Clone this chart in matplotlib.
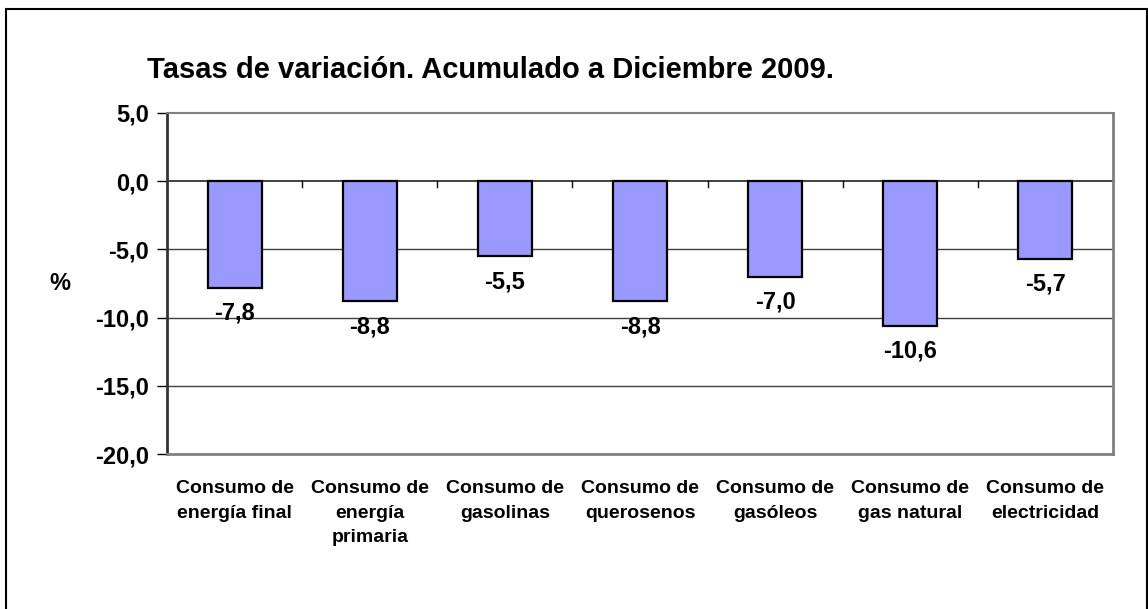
import numpy as np
import matplotlib.pyplot as plt
from matplotlib.patches import Rectangle
from matplotlib.ticker import FuncFormatter

plt.rcParams['font.family'] = ['Liberation Sans', 'DejaVu Sans']
plt.rcParams['font.weight'] = 'bold'

# Datos del grafico
categorias = ["Consumo de\nenergía final", "Consumo de\nenergía\nprimaria",
              "Consumo de\ngasolinas", "Consumo de\nquerosenos",
              "Consumo de\ngasóleos", "Consumo de\ngas natural",
              "Consumo de\nelectricidad"]
tasas = [-7.8, -8.8, -5.5, -8.8, -7.0, -10.6, -5.7]
ticks_y = [5, 0, -5, -10, -15, -20]

fig = plt.figure(figsize=(11.48, 6.09), dpi=100)
ax = fig.add_axes([0.1455, 0.2545, 0.824, 0.56])

# marco exterior de la figura
fig.patches.append(Rectangle((6 / 1148, -0.05), (1147 - 6) / 1148, 1 - 9 / 609 + 0.05,
                             transform=fig.transFigure, fill=False,
                             edgecolor='black', linewidth=1.5, clip_on=False))

x = np.arange(len(tasas))
ax.bar(x, tasas, width=0.4, color='#9999FF', edgecolor='black', linewidth=1.6, zorder=3)

for xi, v in zip(x, tasas):
    ax.annotate(f"{v:.1f}".replace('.', ','), (xi, v), xytext=(0, -10),
                textcoords='offset points', ha='center', va='top',
                fontsize=17, fontweight='bold', zorder=4)

ax.set_xlim(-0.5, len(tasas) - 0.5)
ax.set_ylim(-20, 5)
ax.set_yticks(ticks_y)
ax.yaxis.set_major_formatter(FuncFormatter(lambda v, p: f"{v:.1f}".replace('.', ',')))
ax.tick_params(axis='y', labelsize=17, length=7, width=1, direction='out', pad=6)

# cuadricula horizontal
for t in ticks_y[1:-1]:
    ax.axhline(t, color='#202020' if t == 0 else '#404040', linewidth=1.2 if t == 0 else 1.0, zorder=1)

# marcas en la linea de cero entre categorias
for b in np.arange(0.5, len(tasas) - 0.5, 1.0):
    ax.plot([b, b], [0, -0.45], color='black', linewidth=1, zorder=2)

ax.set_xticks(x)
ax.set_xticklabels(categorias, fontsize=14, fontweight='bold', va='top', linespacing=1.55)
ax.tick_params(axis='x', length=0, pad=19)

for s in ['top', 'right', 'bottom']:
    ax.spines[s].set_color('#808080')
    ax.spines[s].set_linewidth(2)
ax.spines['top'].set_linewidth(1.5)
ax.spines['left'].set_color('#333333')
ax.spines['left'].set_linewidth(2)

fig.text(147 / 1148, 1 - 70 / 609, "Tasas de variación. Acumulado a Diciembre 2009.",
         fontsize=21, fontweight='bold', ha='left', va='center')
fig.text(60 / 1148, 1 - 283 / 609, "%", fontsize=17, fontweight='bold', ha='center', va='center')

fig.savefig("out.png", dpi=100)
